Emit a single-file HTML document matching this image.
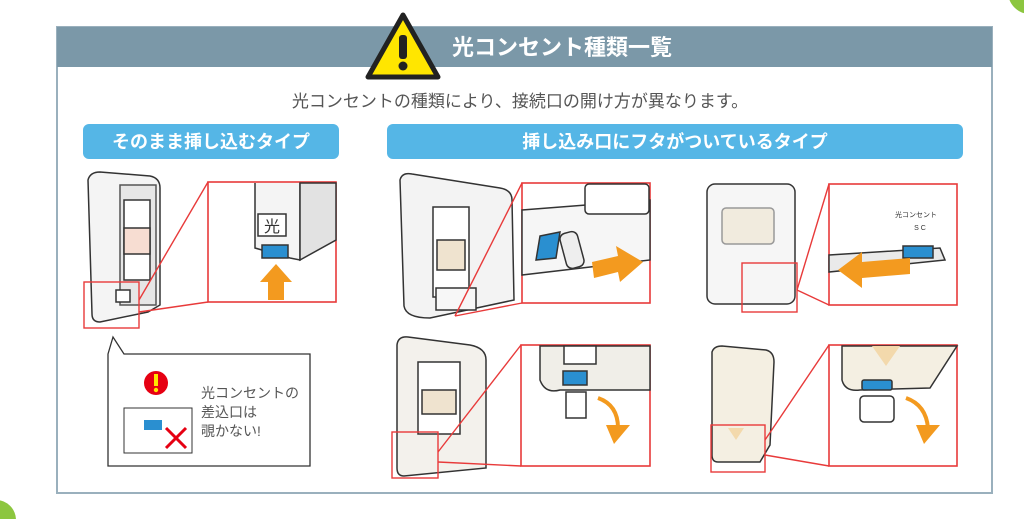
<!DOCTYPE html>
<html><head><meta charset="utf-8"><style>
html,body{margin:0;padding:0;background:#fff;}
svg{display:block;}
text{font-family:"Liberation Sans","Noto Sans CJK JP",sans-serif;}
</style></head><body>
<svg width="1024" height="519" viewBox="0 0 1024 519" xmlns="http://www.w3.org/2000/svg">
<!-- green corners -->
<circle cx="1030" cy="-8" r="22" fill="#8cc63f"/>
<circle cx="-4" cy="520" r="20" fill="#8cc63f"/>
<!-- outer box -->
<rect x="57" y="27" width="935" height="466" fill="#fff" stroke="#9ab0bd" stroke-width="2"/>
<rect x="57" y="27" width="935" height="40" fill="#7b98a8"/>
<!-- warning triangle -->
<polygon points="403,15 368,77 438,77" fill="#ffe600" stroke="#222" stroke-width="5" stroke-linejoin="round"/>
<rect x="399" y="35" width="8" height="24" rx="3" fill="#222"/>
<circle cx="403" cy="66" r="4.5" fill="#222"/>
<text x="452" y="55" font-size="22" font-weight="bold" fill="#fff">光コンセント種類一覧</text>
<text x="520" y="107" font-size="17" fill="#555" text-anchor="middle">光コンセントの種類により、接続口の開け方が異なります。</text>
<!-- pills -->
<rect x="83" y="124" width="256" height="35" rx="6" fill="#55b6e6"/>
<text x="211" y="148" font-size="18" font-weight="bold" fill="#fff" text-anchor="middle">そのまま挿し込むタイプ</text>
<rect x="387" y="124" width="576" height="35" rx="6" fill="#55b6e6"/>
<text x="675" y="148" font-size="18" font-weight="bold" fill="#fff" text-anchor="middle">挿し込み口にフタがついているタイプ</text>

<g stroke="#333" stroke-width="1.5">
<!-- left device -->
<path d="M88,180 Q90,172 100,172 L150,176 Q160,178 160,188 L160,305 L148,312 L100,322 Q92,322 92,314 Z" fill="#f4f4f4"/>
<rect x="120" y="185" width="36" height="120" fill="#e6e6e6" stroke="#555"/>
<rect x="124" y="200" width="26" height="80" fill="#fff"/>
<rect x="124" y="228" width="26" height="26" fill="#f7ddd2"/>
<rect x="116" y="290" width="14" height="12" fill="#fff"/>
<!-- mid top device -->
<path d="M400,180 Q402,172 412,174 L500,188 Q512,190 512,200 L514,300 L430,318 Q406,318 404,306 Z" fill="#f3f3f3"/>
<rect x="433" y="207" width="36" height="90" fill="#fff"/>
<rect x="437" y="240" width="28" height="30" fill="#efe3cf"/>
<rect x="436" y="288" width="40" height="22" fill="#f7f7f7"/>
<!-- right top device -->
<rect x="707" y="184" width="88" height="120" rx="8" fill="#f6f6f6"/>
<rect x="722" y="208" width="52" height="36" rx="4" fill="#f1ebde" stroke="#999"/>
<!-- mid bottom device -->
<path d="M397,345 Q398,336 408,337 L470,345 Q486,348 486,360 L486,468 L404,476 Q397,476 397,468 Z" fill="#f3f1ec"/>
<rect x="418" y="362" width="42" height="72" fill="#fff"/>
<rect x="422" y="390" width="34" height="24" fill="#efe3cf"/>
<!-- right bottom device -->
<path d="M712,352 Q714,346 722,346 L766,350 Q774,352 774,362 L770,445 L760,462 L718,462 Q712,462 712,455 Z" fill="#f4efe2"/>
</g>
<polygon points="728,428 744,428 736,440" fill="#f3d9ac"/>

<!-- zoom panels -->
<g fill="#fff" stroke="#e83a3a" stroke-width="1.6">
<rect x="208" y="182" width="128" height="120"/>
<rect x="522" y="183" width="128" height="120"/>
<rect x="829" y="184" width="128" height="121"/>
<rect x="521" y="345" width="129" height="121"/>
<rect x="829" y="345" width="128" height="121"/>
</g>
<!-- panel contents -->
<g stroke="#333" stroke-width="1.5">
<!-- left zoom -->
<path d="M255,183 L255,248 L290,258 L300,260 L300,183" fill="#f4f4f4"/>
<path d="M300,183 L336,183 L336,240 L300,260 Z" fill="#e2e2e2"/>
<rect x="258" y="214" width="28" height="22" fill="#fff"/>
<rect x="262" y="245" width="26" height="13" fill="#2a8fd0"/>
<!-- mid top zoom -->
<path d="M522,210 L650,200 L650,260 L522,275 Z" fill="#f6f6f6"/>
<rect x="585" y="184" width="64" height="30" rx="4" fill="#fff"/>
<polygon points="540,236 560,232 556,258 536,260" fill="#2a8fd0"/>
<rect x="563" y="232" width="18" height="36" rx="6" fill="#eee" transform="rotate(-15 572 250)"/>
<!-- right top zoom -->
<path d="M829,255 L940,248 L945,260 L829,272 Z" fill="#eaeaea"/>
<rect x="903" y="246" width="30" height="12" fill="#2a8fd0"/>
<!-- mid bottom zoom -->
<path d="M540,346 L540,380 Q545,394 560,390 L650,390 L650,346 Z" fill="#f0eee8"/>
<rect x="564" y="346" width="32" height="18" fill="#fff"/>
<rect x="563" y="371" width="24" height="14" fill="#2a8fd0"/>
<rect x="566" y="392" width="20" height="26" fill="#fff"/>
<!-- right bottom zoom -->
<path d="M842,346 L842,380 Q845,392 860,390 L930,388 L957,346 Z" fill="#f4efe2"/>
<rect x="862" y="380" width="30" height="10" rx="2" fill="#2a8fd0"/>
<rect x="860" y="396" width="34" height="26" rx="4" fill="#fff"/>
</g>
<polygon points="872,346 900,346 886,366" fill="#f3d9ac"/>
<text x="916" y="217" font-size="7" fill="#333" text-anchor="middle">光コンセント</text>
<text x="920" y="230" font-size="7" fill="#333" text-anchor="middle">S C</text>
<text x="272" y="232" font-size="16" fill="#333" text-anchor="middle">光</text>

<!-- orange arrows -->
<g fill="#f39a1f">
<polygon points="268,300 268,282 260,282 276,264 292,282 284,282 284,300"/>
<polygon points="592,262 618,256 616,246 643,262 620,282 618,272 594,278"/>
<polygon points="910,258 862,262 862,252 838,270 862,288 862,278 910,274"/>
</g>
<g fill="none" stroke="#f39a1f" stroke-width="4">
<path d="M598,398 Q618,405 618,428"/>
<path d="M906,398 Q926,405 928,428"/>
</g>
<polygon points="606,425 630,425 614,444" fill="#f39a1f"/>
<polygon points="916,425 940,425 924,444" fill="#f39a1f"/>

<!-- small red rects and connector lines -->
<g fill="none" stroke="#e83a3a" stroke-width="1.4">
<rect x="84" y="282" width="55" height="46"/>
<line x1="139" y1="300" x2="208" y2="182"/>
<line x1="139" y1="312" x2="208" y2="302"/>
<line x1="455" y1="316" x2="522" y2="183"/>
<line x1="455" y1="316" x2="522" y2="303"/>
<rect x="742" y="263" width="55" height="49"/>
<line x1="797" y1="290" x2="829" y2="184"/>
<line x1="797" y1="290" x2="829" y2="305"/>
<rect x="392" y="432" width="46" height="46"/>
<line x1="438" y1="452" x2="521" y2="345"/>
<line x1="438" y1="462" x2="521" y2="466"/>
<rect x="711" y="425" width="54" height="47"/>
<line x1="765" y1="440" x2="829" y2="345"/>
<line x1="765" y1="455" x2="829" y2="466"/>
</g>

<!-- callout -->
<path d="M108,354 L113,337 L124,354 L310,354 L310,466 L108,466 Z" fill="#fff" stroke="#333" stroke-width="1.3"/>
<circle cx="156" cy="383" r="12" fill="#e60012"/>
<rect x="154" y="374" width="4" height="12" fill="#ffe600"/>
<circle cx="156" cy="390" r="2.2" fill="#ffe600"/>
<rect x="124" y="408" width="68" height="45" fill="#fff" stroke="#333"/>
<rect x="144" y="420" width="18" height="10" fill="#2a8fd0"/>
<g stroke="#e60012" stroke-width="3"><line x1="166" y1="428" x2="186" y2="448"/><line x1="186" y1="428" x2="166" y2="448"/></g>
<text font-size="14" fill="#555"><tspan x="201" y="398">光コンセントの</tspan><tspan x="201" y="417">差込口は</tspan><tspan x="201" y="436">覗かない!</tspan></text>
</svg>
</body></html>
